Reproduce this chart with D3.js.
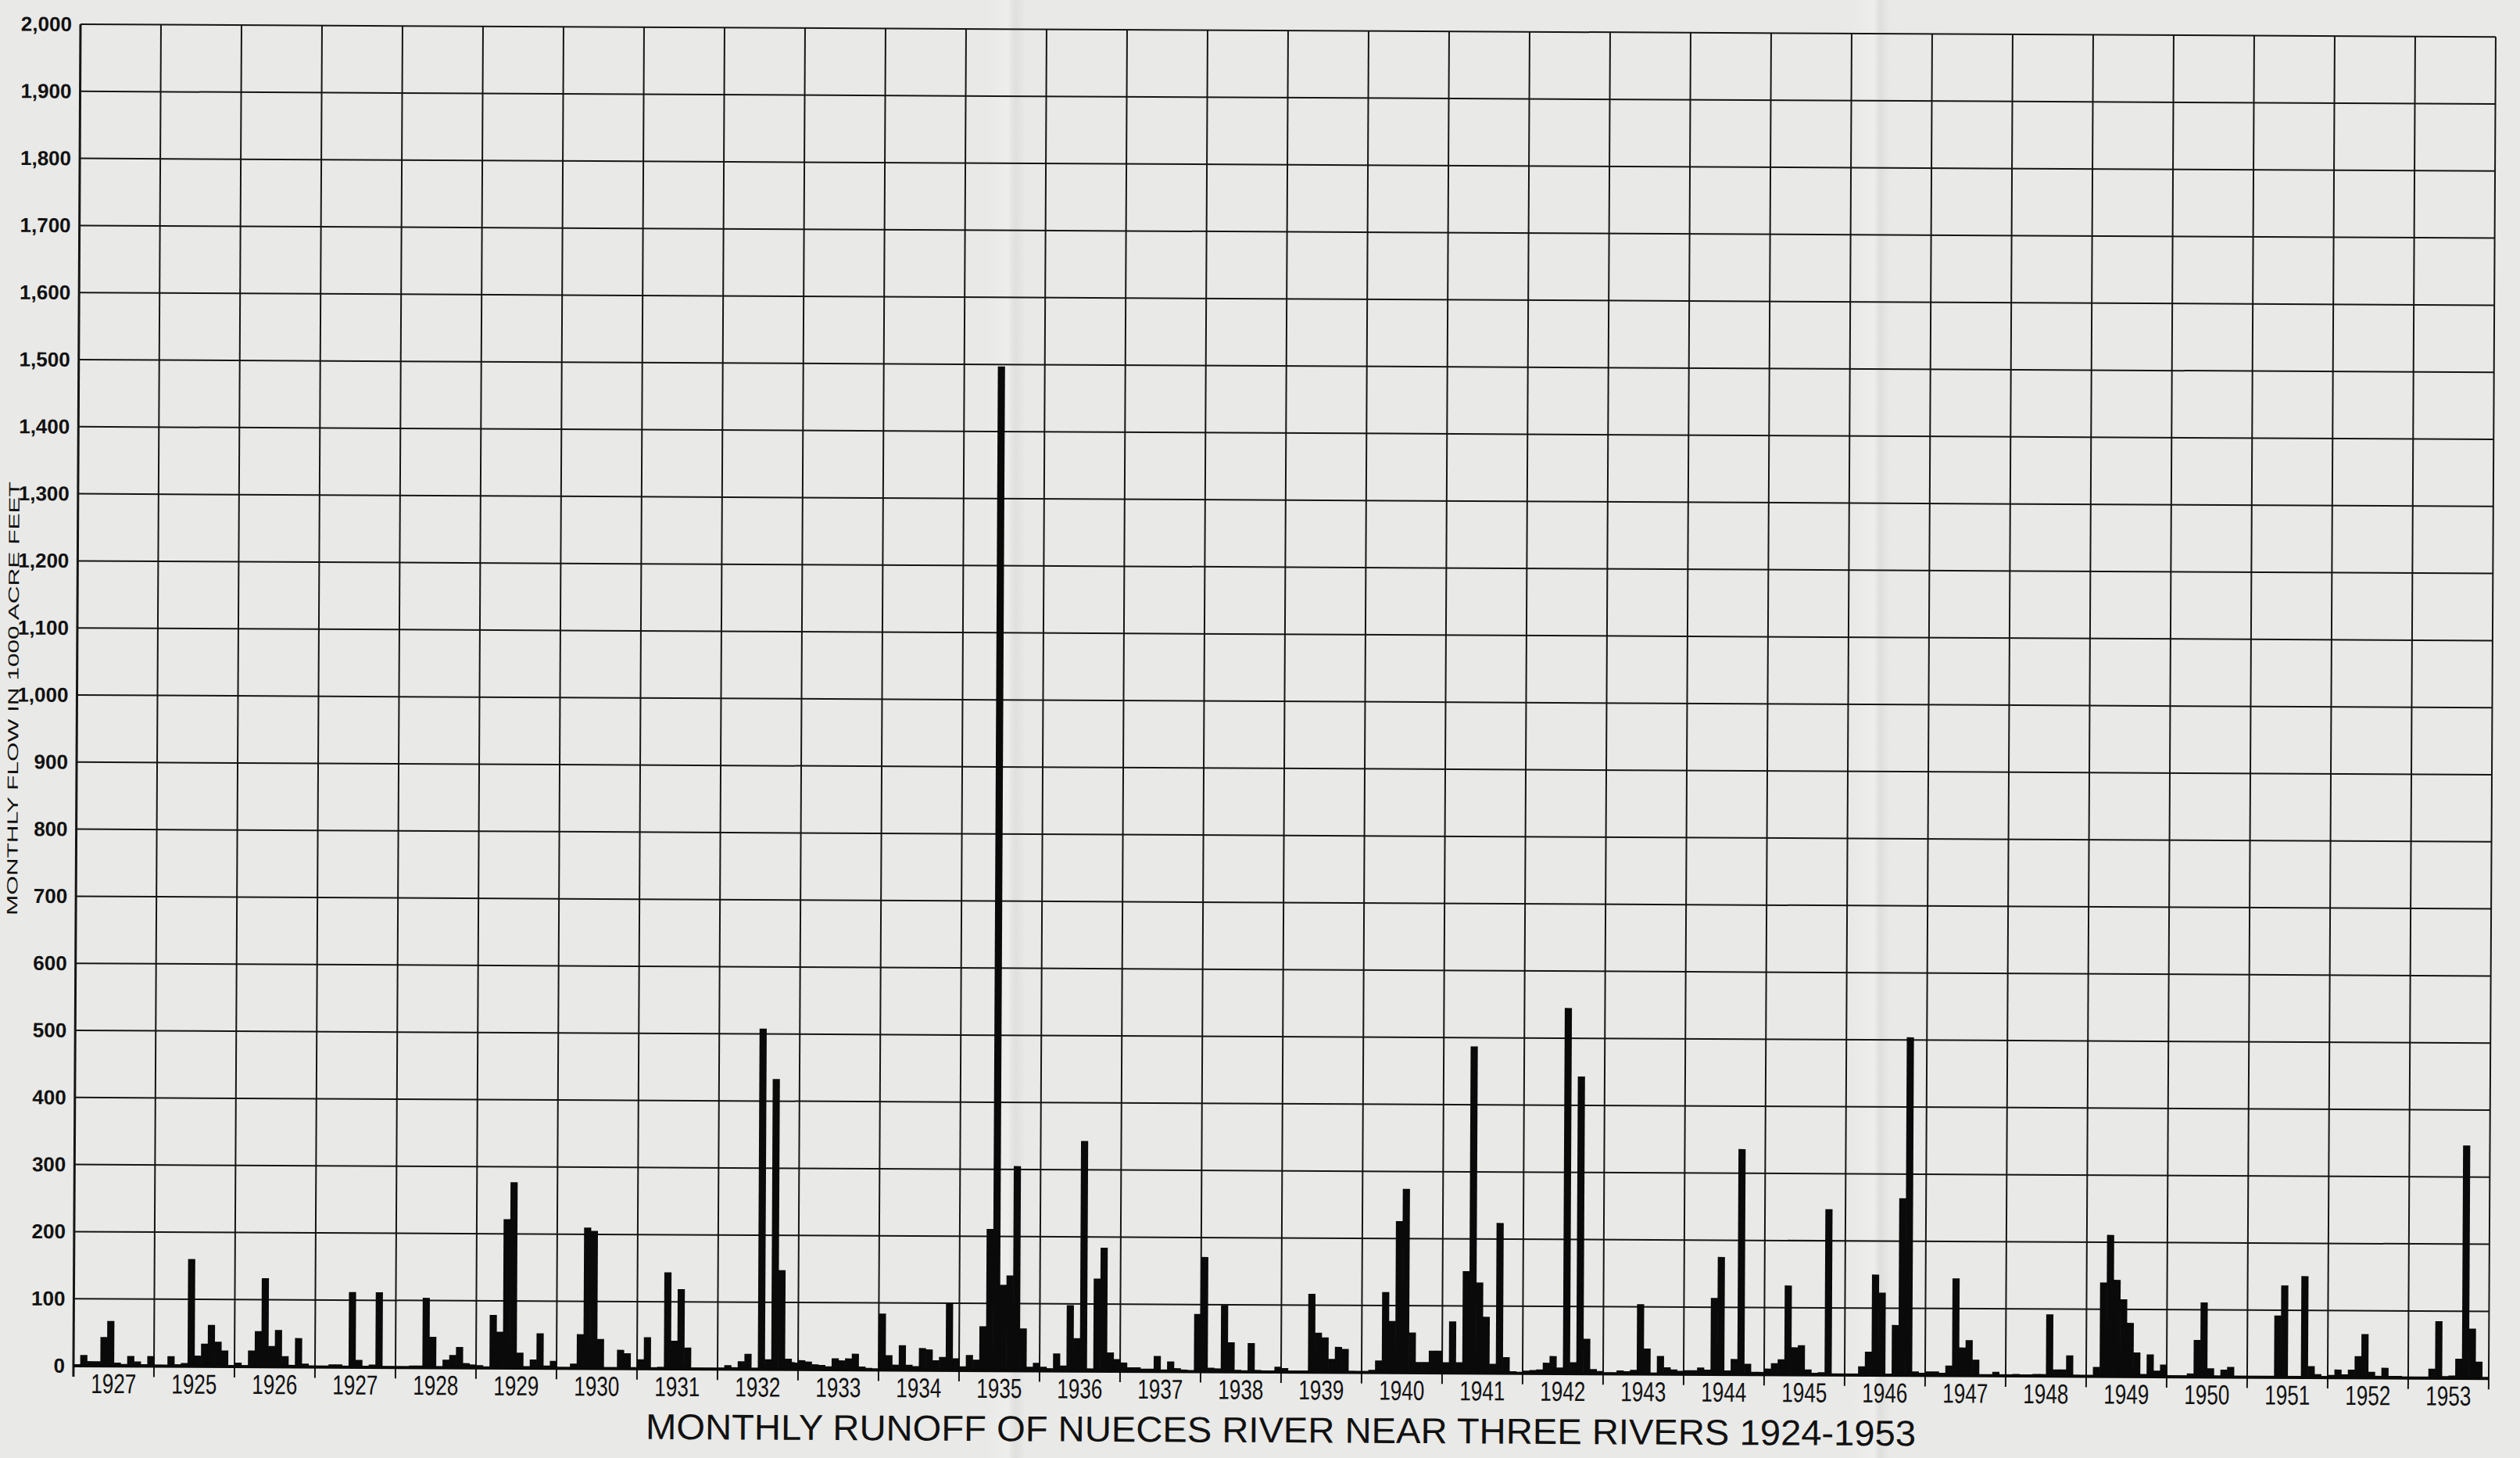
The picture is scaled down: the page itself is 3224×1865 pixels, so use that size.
<!DOCTYPE html>
<html>
<head>
<meta charset="utf-8">
<script src="https://cdn.jsdelivr.net/npm/d3@7"></script>
<style>
  html, body { margin: 0; padding: 0; background: #e8e8e6; }
  svg { display: block; }
</style>
</head>
<body>
<script>
// Year captions printed under each column (the first one is printed as "1927").
const yearLabels = ["1927", "1925", "1926", "1927", "1928", "1929", "1930", "1931", "1932", "1933",
  "1934", "1935", "1936", "1937", "1938", "1939", "1940", "1941", "1942", "1943",
  "1944", "1945", "1946", "1947", "1948", "1949", "1950", "1951", "1952", "1953"];

// Monthly runoff, thousand acre-feet, January..December
const r1924 = [2, 16, 7, 7, 43, 67, 5, 3, 15, 7, 3, 15];
const r1925 = [2, 2, 15, 3, 5, 160, 16, 34, 62, 37, 24, 2];
const r1926 = [6, 1, 24, 53, 132, 31, 55, 16, 3, 43, 5, 2];
const r1927 = [1, 1, 4, 4, 2, 112, 11, 2, 4, 112, 1, 1];
const r1928 = [1, 1, 3, 3, 104, 46, 2, 12, 19, 31, 7, 5];
const r1929 = [4, 2, 79, 54, 222, 277, 23, 3, 13, 52, 4, 11];
const r1930 = [1, 1, 7, 51, 210, 205, 44, 1, 1, 28, 23, 2];
const r1931 = [14, 47, 2, 3, 144, 42, 119, 32, 1, 1, 0, 0];
const r1932 = [2, 6, 3, 12, 23, 2, 508, 15, 433, 148, 16, 11];
const r1933 = [14, 12, 8, 7, 5, 17, 14, 17, 24, 5, 3, 2];
const r1934 = [84, 22, 8, 37, 8, 6, 33, 31, 15, 20, 100, 18];
const r1935 = [6, 23, 16, 66, 211, 1497, 128, 142, 305, 63, 6, 12];
const r1936 = [6, 4, 26, 8, 98, 49, 343, 4, 138, 184, 28, 18];
const r1937 = [13, 6, 6, 4, 4, 23, 3, 15, 5, 3, 1, 86];
const r1938 = [171, 6, 5, 99, 44, 3, 1, 43, 3, 0, 2, 8];
const r1939 = [6, 2, 2, 2, 117, 59, 52, 20, 38, 35, 2, 1];
const r1940 = [1, 4, 18, 120, 77, 226, 274, 60, 16, 16, 33, 33];
const r1941 = [16, 77, 16, 152, 487, 135, 84, 14, 224, 24, 3, 2];
const r1942 = [4, 5, 6, 16, 26, 9, 545, 17, 443, 52, 7, 4];
const r1943 = [2, 2, 5, 4, 6, 104, 38, 1, 27, 10, 7, 5];
const r1944 = [6, 6, 10, 7, 114, 175, 6, 23, 336, 16, 4, 4];
const r1945 = [9, 17, 23, 133, 41, 44, 8, 3, 4, 247, 2, 1];
const r1946 = [1, 1, 13, 35, 150, 123, 2, 75, 264, 504, 6, 4];
const r1947 = [6, 6, 4, 15, 145, 42, 53, 24, 2, 0, 6, 1];
const r1948 = [2, 3, 2, 2, 3, 3, 92, 10, 10, 31, 2, 0];
const r1949 = [1, 14, 140, 211, 144, 115, 80, 36, 4, 33, 9, 18];
const r1950 = [2, 2, 2, 5, 55, 111, 13, 2, 11, 15, 1, 1];
const r1951 = [1, 1, 2, 2, 92, 137, 2, 2, 151, 17, 5, 2];
const r1952 = [4, 12, 5, 12, 32, 65, 9, 3, 15, 3, 3, 2];
const r1953 = [1, 1, 1, 14, 85, 3, 4, 29, 347, 74, 25, 1];

const runoffByYear = [r1924, r1925, r1926, r1927, r1928, r1929, r1930, r1931, r1932, r1933,
  r1934, r1935, r1936, r1937, r1938, r1939, r1940, r1941, r1942, r1943,
  r1944, r1945, r1946, r1947, r1948, r1949, r1950, r1951, r1952, r1953];

const yTickValues = d3.range(0, 2001, 100);
const titleText = "MONTHLY RUNOFF OF NUECES RIVER NEAR THREE RIVERS 1924-1953";
const axisTitleText = "MONTHLY FLOW IN 1000 ACRE FEET";

// ---- layout ----
const W = 3224, H = 1865;
const plotLeft = 94, plotRight = 3184, plotTop = 31, plotBase = 1747;
const sheetTilt = 0.3; // degrees: the drawing sits slightly askew on the sheet

const monthly = runoffByYear.flat();

const x = d3.scaleBand()
  .domain(d3.range(monthly.length))
  .range([plotLeft, plotRight])
  .padding(0);

const xYear = d3.scaleBand()
  .domain(d3.range(yearLabels.length))
  .range([plotLeft, plotRight])
  .padding(0);

const y = d3.scaleLinear().domain([0, 2000]).range([plotBase, plotTop]);

const svg = d3.select("body").append("svg")
  .attr("width", W).attr("height", H)
  .attr("viewBox", `0 0 ${W} ${H}`);

// paper with faint fold creases
const defs = svg.append("defs");
function crease(id, stops) {
  const g = defs.append("linearGradient").attr("id", id).attr("x1", 0).attr("x2", 1).attr("y1", 0).attr("y2", 0);
  stops.forEach(([o, c, a]) => g.append("stop").attr("offset", o).attr("stop-color", c).attr("stop-opacity", a));
}
crease("foldA", [[0, "#ffffff", 0], [0.55, "#ffffff", 0.22], [0.75, "#a8a8a8", 0.14], [1, "#a8a8a8", 0]]);
crease("foldB", [[0, "#ffffff", 0], [0.6, "#ffffff", 0.2], [0.75, "#a8a8a8", 0.16], [1, "#a8a8a8", 0]]);

svg.append("rect").attr("width", W).attr("height", H).attr("fill", "#e9e9e7");
svg.append("rect").attr("x", 1262).attr("y", 0).attr("width", 50).attr("height", H).attr("fill", "url(#foldA)");
svg.append("rect").attr("x", 2368).attr("y", 0).attr("width", 50).attr("height", H).attr("fill", "url(#foldB)");

const sheet = svg.append("g")
  .attr("transform", `rotate(${sheetTilt},${plotLeft},${plotBase})`);

const ink = "#161616";

// horizontal rulings every 100
sheet.append("g").selectAll("line")
  .data(yTickValues.filter(d => d > 0))
  .join("line")
  .attr("x1", plotLeft).attr("x2", plotRight)
  .attr("y1", d => y(d)).attr("y2", d => y(d))
  .attr("stroke", ink).attr("stroke-width", 2);

// year dividers, running just below the base line
const yearEdges = d3.range(yearLabels.length + 1).map(i => i < yearLabels.length ? xYear(i) : plotRight);
sheet.append("g").selectAll("line")
  .data(yearEdges)
  .join("line")
  .attr("x1", d => d).attr("x2", d => d)
  .attr("y1", plotTop).attr("y2", plotBase + 14)
  .attr("stroke", ink).attr("stroke-width", (d, i) => i === 0 ? 3 : 2);

// monthly bars
sheet.append("g").selectAll("rect")
  .data(monthly)
  .join("rect")
  .attr("x", (d, i) => x(i))
  .attr("width", x.bandwidth() + 0.6)
  .attr("y", d => y(d))
  .attr("height", d => plotBase - y(d))
  .attr("fill", "#0a0a0a");

// base line
sheet.append("line")
  .attr("x1", plotLeft).attr("x2", plotRight)
  .attr("y1", plotBase).attr("y2", plotBase)
  .attr("stroke", "#0a0a0a").attr("stroke-width", 4);

// value axis labels
const yAxis = sheet.append("g")
  .attr("transform", `translate(${plotLeft},0)`)
  .call(d3.axisLeft(y).tickValues(yTickValues).tickFormat(d3.format(",")).tickSize(0).tickPadding(11));
yAxis.select(".domain").remove();
yAxis.selectAll("text")
  .attr("fill", "#111")
  .style("font-family", "'Liberation Sans', Arial, sans-serif")
  .style("font-weight", "bold")
  .style("font-size", "26px");

// year captions
const xAxis = sheet.append("g")
  .attr("transform", `translate(0,${plotBase})`)
  .call(d3.axisBottom(xYear).tickFormat(i => yearLabels[i]).tickSize(0).tickPadding(10));
xAxis.select(".domain").remove();
xAxis.selectAll("text")
  .attr("fill", "#111")
  .attr("dy", "0.71em")
  .attr("textLength", 58)
  .attr("lengthAdjust", "spacingAndGlyphs")
  .style("font-family", "'Liberation Sans', Arial, sans-serif")
  .style("font-size", "35px");

// chart title
sheet.append("text")
  .attr("x", 1639).attr("y", 1837)
  .attr("text-anchor", "middle")
  .attr("textLength", 1625)
  .attr("lengthAdjust", "spacingAndGlyphs")
  .attr("fill", "#111")
  .style("font-family", "'Liberation Sans', Arial, sans-serif")
  .style("font-size", "46px")
  .text(titleText);

// axis title, running up the left margin
sheet.append("text")
  .attr("transform", `translate(19,894) rotate(-90)`)
  .attr("text-anchor", "middle")
  .attr("textLength", 555)
  .attr("lengthAdjust", "spacingAndGlyphs")
  .attr("fill", "#111")
  .style("font-family", "'Liberation Sans', Arial, sans-serif")
  .style("font-size", "19px")
  .text(axisTitleText);
</script>
</body>
</html>
